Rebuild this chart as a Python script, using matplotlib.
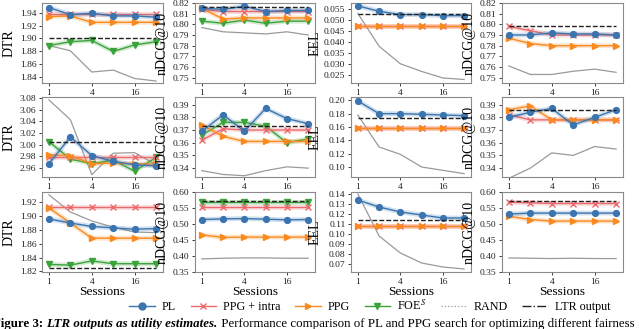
import matplotlib
matplotlib.use("Agg")
import matplotlib.pyplot as plt
import numpy as np
from matplotlib.lines import Line2D

plt.rcParams['font.family'] = ['Liberation Serif', 'DejaVu Serif']
plt.rcParams['mathtext.fontset'] = 'stix'

sessions = [1, 2, 4, 8, 16, 32]
xticks = [1, 4, 16]

# ---- data: rows = datasets, columns = (DTR, nDCG, EEL, nDCG) ----
# Row 1
r1_dtr_PL = [1.948, 1.937, 1.939, 1.935, 1.935, 1.933]
r1_dtr_PPGi = [1.938, 1.938, 1.938, 1.938, 1.938, 1.938]
r1_dtr_PPG = [1.934, 1.935, 1.925, 1.925, 1.925, 1.925]
r1_dtr_FOE = [1.889, 1.895, 1.897, 1.880, 1.890, 1.895]
r1_dtr_RAND = [1.889, 1.881, 1.848, 1.851, 1.838, 1.834]
r1_dtr_LTR = 1.900

r1_nd1_PL = [0.815, 0.814, 0.817, 0.812, 0.813, 0.813]
r1_nd1_PPGi = [0.814, 0.812, 0.812, 0.812, 0.812, 0.812]
r1_nd1_PPG = [0.815, 0.805, 0.806, 0.806, 0.806, 0.806]
r1_nd1_FOE = [0.803, 0.801, 0.804, 0.801, 0.803, 0.803]
r1_nd1_RAND = [0.797, 0.793, 0.792, 0.791, 0.793, 0.790]
r1_nd1_LTR = 0.816

r1_eel_PL = [0.0565, 0.0540, 0.0525, 0.0525, 0.0520, 0.0520]
r1_eel_PPG = [0.0475, 0.0475, 0.0475, 0.0475, 0.0475, 0.0475]
r1_eel_RAND = [0.0530, 0.0380, 0.0300, 0.0265, 0.0235, 0.0228]
r1_eel_LTR = 0.0528

r1_nd2_PL = [0.790, 0.790, 0.792, 0.791, 0.791, 0.790]
r1_nd2_PPGi = [0.798, 0.794, 0.790, 0.790, 0.790, 0.790]
r1_nd2_PPG = [0.787, 0.782, 0.780, 0.780, 0.780, 0.780]
r1_nd2_RAND = [0.761, 0.753, 0.753, 0.756, 0.758, 0.755]
r1_nd2_LTR = 0.798

# Row 2
r2_dtr_PL = [2.967, 3.013, 2.981, 2.971, 2.965, 2.963]
r2_dtr_PPGi = [2.978, 2.978, 2.978, 2.978, 2.978, 2.978]
r2_dtr_PPG = [2.982, 2.981, 2.967, 2.968, 2.967, 2.966]
r2_dtr_FOE = [3.005, 2.975, 2.967, 2.973, 2.954, 2.978]
r2_dtr_RAND = [3.077, 3.043, 2.948, 2.985, 2.986, 2.965]
r2_dtr_LTR = 3.004

r2_nd1_PL = [0.369, 0.382, 0.369, 0.387, 0.379, 0.375]
r2_nd1_PPGi = [0.362, 0.371, 0.370, 0.370, 0.370, 0.370]
r2_nd1_PPG = [0.374, 0.365, 0.361, 0.361, 0.361, 0.361]
r2_nd1_FOE = [0.366, 0.376, 0.376, 0.373, 0.360, 0.363]
r2_nd1_RAND = [0.338, 0.335, 0.334, 0.338, 0.341, 0.340]
r2_nd1_LTR = 0.373

r2_eel_PL = [0.199, 0.180, 0.180, 0.179, 0.178, 0.177]
r2_eel_PPG = [0.158, 0.158, 0.158, 0.158, 0.158, 0.158]
r2_eel_RAND = [0.178, 0.130, 0.119, 0.100, 0.095, 0.090]
r2_eel_LTR = 0.173

r2_nd2_PL = [0.380, 0.384, 0.387, 0.374, 0.380, 0.386]
r2_nd2_PPGi = [0.382, 0.378, 0.378, 0.378, 0.378, 0.378]
r2_nd2_PPG = [0.386, 0.389, 0.378, 0.378, 0.378, 0.378]
r2_nd2_RAND = [0.332, 0.340, 0.352, 0.350, 0.357, 0.355]
r2_nd2_LTR = 0.386

# Row 3
r3_dtr_PL = [1.896, 1.890, 1.885, 1.883, 1.881, 1.882]
r3_dtr_PPGi = [1.913, 1.913, 1.913, 1.913, 1.913, 1.913]
r3_dtr_PPG = [1.912, 1.890, 1.868, 1.868, 1.868, 1.868]
r3_dtr_FOE = [1.830, 1.829, 1.835, 1.831, 1.831, 1.831]
r3_dtr_RAND = [1.931, 1.906, 1.893, 1.884, 1.877, 1.876]
r3_dtr_LTR = 1.825

r3_nd1_PL = [0.514, 0.516, 0.517, 0.515, 0.513, 0.514]
r3_nd1_PPGi = [0.553, 0.553, 0.553, 0.553, 0.553, 0.553]
r3_nd1_PPG = [0.466, 0.458, 0.459, 0.459, 0.459, 0.459]
r3_nd1_FOE = [0.570, 0.570, 0.570, 0.570, 0.570, 0.570]
r3_nd1_RAND = [0.391, 0.393, 0.394, 0.394, 0.393, 0.393]
r3_nd1_LTR = 0.571

r3_eel_PL = [0.134, 0.127, 0.122, 0.119, 0.116, 0.116]
r3_eel_PPG = [0.108, 0.108, 0.108, 0.108, 0.108, 0.108]
r3_eel_RAND = [0.140, 0.098, 0.081, 0.071, 0.067, 0.065]
r3_eel_LTR = 0.114

r3_nd2_PL = [0.531, 0.534, 0.534, 0.534, 0.534, 0.534]
r3_nd2_PPGi = [0.568, 0.566, 0.564, 0.564, 0.564, 0.564]
r3_nd2_PPG = [0.524, 0.514, 0.509, 0.509, 0.509, 0.509]
r3_nd2_RAND = [0.394, 0.393, 0.392, 0.393, 0.392, 0.392]
r3_nd2_LTR = 0.572

ylabels = ["DTR", "nDCG@10", "EEL", "nDCG@10"]
legend_labels = ["PL", "PPG + intra", "PPG", "FOE$^S$", "RAND", "LTR output"]

panels = [
    [dict(PL=r1_dtr_PL, PPGi=r1_dtr_PPGi, PPG=r1_dtr_PPG, FOE=r1_dtr_FOE, RAND=r1_dtr_RAND, LTR=r1_dtr_LTR,
          ylim=(1.831, 1.955), ticks=np.arange(1.84, 1.9401, 0.02), fmt="{:.2f}"),
     dict(PL=r1_nd1_PL, PPGi=r1_nd1_PPGi, PPG=r1_nd1_PPG, FOE=r1_nd1_FOE, RAND=r1_nd1_RAND, LTR=r1_nd1_LTR,
          ylim=(0.745, 0.820), ticks=np.arange(0.75, 0.8201, 0.01), fmt="{:.2f}"),
     dict(PL=r1_eel_PL, PPGi=r1_eel_PPG, PPG=r1_eel_PPG, RAND=r1_eel_RAND, LTR=r1_eel_LTR,
          ylim=(0.0212, 0.0578), ticks=np.arange(0.025, 0.05501, 0.005), fmt="{:.3f}"),
     dict(PL=r1_nd2_PL, PPGi=r1_nd2_PPGi, PPG=r1_nd2_PPG, RAND=r1_nd2_RAND, LTR=r1_nd2_LTR,
          ylim=(0.745, 0.820), ticks=np.arange(0.75, 0.8201, 0.01), fmt="{:.2f}")],
    [dict(PL=r2_dtr_PL, PPGi=r2_dtr_PPGi, PPG=r2_dtr_PPG, FOE=r2_dtr_FOE, RAND=r2_dtr_RAND, LTR=r2_dtr_LTR,
          ylim=(2.944, 3.082), ticks=np.arange(2.96, 3.0801, 0.02), fmt="{:.2f}"),
     dict(PL=r2_nd1_PL, PPGi=r2_nd1_PPGi, PPG=r2_nd1_PPG, FOE=r2_nd1_FOE, RAND=r2_nd1_RAND, LTR=r2_nd1_LTR,
          ylim=(0.333, 0.396), ticks=np.arange(0.34, 0.3901, 0.01), fmt="{:.2f}"),
     dict(PL=r2_eel_PL, PPGi=r2_eel_PPG, PPG=r2_eel_PPG, RAND=r2_eel_RAND, LTR=r2_eel_LTR,
          ylim=(0.085, 0.205), ticks=np.arange(0.10, 0.2001, 0.02), fmt="{:.2f}"),
     dict(PL=r2_nd2_PL, PPGi=r2_nd2_PPGi, PPG=r2_nd2_PPG, RAND=r2_nd2_RAND, LTR=r2_nd2_LTR,
          ylim=(0.333, 0.396), ticks=np.arange(0.34, 0.3901, 0.01), fmt="{:.2f}")],
    [dict(PL=r3_dtr_PL, PPGi=r3_dtr_PPGi, PPG=r3_dtr_PPG, FOE=r3_dtr_FOE, RAND=r3_dtr_RAND, LTR=r3_dtr_LTR,
          ylim=(1.819, 1.935), ticks=np.arange(1.82, 1.9201, 0.02), fmt="{:.2f}"),
     dict(PL=r3_nd1_PL, PPGi=r3_nd1_PPGi, PPG=r3_nd1_PPG, FOE=r3_nd1_FOE, RAND=r3_nd1_RAND, LTR=r3_nd1_LTR,
          ylim=(0.35, 0.60), ticks=np.arange(0.35, 0.6001, 0.05), fmt="{:.2f}"),
     dict(PL=r3_eel_PL, PPGi=r3_eel_PPG, PPG=r3_eel_PPG, RAND=r3_eel_RAND, LTR=r3_eel_LTR,
          ylim=(0.062, 0.142), ticks=np.arange(0.07, 0.1401, 0.01), fmt="{:.2f}"),
     dict(PL=r3_nd2_PL, PPGi=r3_nd2_PPGi, PPG=r3_nd2_PPG, RAND=r3_nd2_RAND, LTR=r3_nd2_LTR,
          ylim=(0.35, 0.60), ticks=np.arange(0.35, 0.6001, 0.05), fmt="{:.2f}")],
]

C_PL = "#3b75af"
C_PPGi = "#ec6a6e"
C_PPG = "#fa8a1f"
C_FOE = "#3aa33a"
C_RAND = "#9a9a9a"
C_LTR = "#222222"

W, H = 640, 329
fig = plt.figure(figsize=(W / 100, H / 100), dpi=100)

cols_px = [(42, 163), (195, 315), (351, 471), (502, 623)]
rows_px = [(3, 83), (97, 177), (192, 272)]
label_off = [-26, -26, -29, -26]

def series(ax, x, y, color, marker, ms, z):
    ax.plot(x, y, color=color, lw=3.5, alpha=0.22, zorder=z, solid_capstyle='round')
    ax.plot(x, y, color=color, lw=1.0, marker=marker, ms=ms, mec=color, mfc=color,
            mew=1.0, zorder=z + 0.5)

for r, (top, bot) in enumerate(rows_px):
    for c, (left, right) in enumerate(cols_px):
        p = panels[r][c]
        ax = fig.add_axes([left / W, 1 - bot / H, (right - left) / W, (bot - top) / H])
        ax.set_xscale('log', base=2)
        ax.plot(sessions, p['RAND'], color=C_RAND, lw=0.9, zorder=2)
        ax.plot(sessions, [p['LTR']] * len(sessions), color=C_LTR, lw=1.0,
                ls=(0, (3.5, 1.5)), zorder=6)
        if 'FOE' in p:
            series(ax, sessions, p['FOE'], C_FOE, 'v', 4.2, 3)
        series(ax, sessions, p['PPGi'], C_PPGi, 'x', 4.2, 4)
        series(ax, sessions, p['PPG'], C_PPG, '>', 4.2, 4.2)
        series(ax, sessions, p['PL'], C_PL, 'o', 4.2, 5)
        ax.set_xlim(0.8, 40)
        ax.set_xticks(xticks)
        ax.set_xticklabels([str(t) for t in xticks])
        ax.minorticks_off()
        ax.set_ylim(*p['ylim'])
        ax.set_yticks(p['ticks'])
        ax.set_yticklabels([p['fmt'].format(t) for t in p['ticks']])
        ax.tick_params(labelsize=6.8, length=2.5, width=0.6, pad=1.5, colors='#222222')
        for s in ax.spines.values():
            s.set_color('#8a8a8a')
            s.set_linewidth(0.8)
        ax.set_ylabel(ylabels[c], fontsize=10)
        ax.yaxis.set_label_coords(label_off[c] / (right - left), 0.5)
        if r == 2:
            ax.set_xlabel("Sessions", fontsize=9.6, labelpad=0.3)

leg_handles = [
    Line2D([], [], color=C_PL, marker='o', lw=1, ms=5),
    Line2D([], [], color=C_PPGi, marker='x', lw=1, ms=5),
    Line2D([], [], color=C_PPG, marker='>', lw=1, ms=5),
    Line2D([], [], color=C_FOE, marker='v', lw=1, ms=5),
    Line2D([], [], color=C_RAND, lw=0.9, ls=':'),
    Line2D([], [], color=C_LTR, lw=1, ls='-.'),
]
fig.legend(leg_handles, legend_labels, loc='center', bbox_to_anchor=(0.578, 1 - 305.5 / H),
           ncol=6, frameon=False, fontsize=8.7, handlelength=2.1, columnspacing=1.2,
           handletextpad=0.6, borderpad=0.1)

# caption (partially cut at bottom, as in the reference)
fig.canvas.draw()
renderer = fig.canvas.get_renderer()
y_cap = 1 - 326.5 / H
parts = [("Figure 3: ", dict(weight='bold')),
         ("LTR outputs as utility estimates.", dict(weight='bold', style='italic')),
         (" Performance comparison of PL and PPG search for optimizing different fairness", {})]
x = -7
for txt, kw in parts:
    t = fig.text(x / W, y_cap, txt, fontsize=9.3, va='baseline', ha='left', **kw)
    bb = t.get_window_extent(renderer=renderer)
    x += bb.width

fig.savefig("out.png", dpi=100)
